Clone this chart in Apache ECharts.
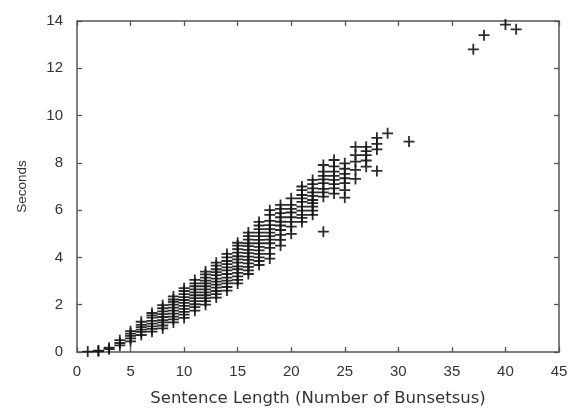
<!DOCTYPE html>
<html>
<head>
<meta charset="utf-8">
<script src="https://cdn.jsdelivr.net/npm/echarts@6/dist/echarts.min.js"></script>
<style>
html,body{margin:0;padding:0;background:#fff;}
#chart{width:571px;height:410px;}
</style>
</head>
<body>
<div id="chart"></div>
<script>
// Sentence length (number of bunsetsus) per column
const sentenceLengths = [1,2,3,4,5,6,7,8,9,10,11,12,13,14,15,16,17,18,19,20,21,22,23,24,25,26,27,28,29,31,37,38,40,41];
// Seconds observed for each sentence length (same order as sentenceLengths)
const secondsByLength = [
  [0.02],
  [0.03, 0.06],
  [0.12, 0.18],
  [0.28, 0.38, 0.5],
  [0.45, 0.58, 0.68, 0.78, 0.88],
  [0.72, 0.85, 0.95, 1.05, 1.15, 1.28],
  [0.86, 0.98, 1.08, 1.2, 1.32, 1.45, 1.55, 1.65],
  [1.0, 1.12, 1.25, 1.35, 1.48, 1.6, 1.72, 1.85, 1.98],
  [1.25, 1.38, 1.5, 1.62, 1.75, 1.88, 2.0, 2.12, 2.22, 2.35],
  [1.44, 1.58, 1.7, 1.82, 1.95, 2.08, 2.2, 2.32, 2.45, 2.58, 2.7],
  [1.75, 1.9, 2.02, 2.15, 2.28, 2.4, 2.52, 2.65, 2.78, 2.9, 3.05],
  [2.0, 2.15, 2.28, 2.4, 2.52, 2.65, 2.78, 2.9, 3.02, 3.15, 3.28, 3.4],
  [2.3, 2.45, 2.58, 2.72, 2.85, 2.98, 3.1, 3.25, 3.38, 3.5, 3.65, 3.78],
  [2.6, 2.75, 2.9, 3.02, 3.15, 3.3, 3.45, 3.58, 3.72, 3.85, 4.0, 4.15],
  [2.9, 3.05, 3.2, 3.35, 3.5, 3.62, 3.78, 3.92, 4.05, 4.2, 4.35, 4.5, 4.62],
  [3.3, 3.45, 3.6, 3.75, 3.9, 4.03, 4.18, 4.32, 4.48, 4.6, 4.75, 4.9, 5.05],
  [3.68, 3.85, 4.0, 4.15, 4.3, 4.45, 4.6, 4.74, 4.9, 5.05, 5.2, 5.35, 5.5],
  [3.95, 4.15, 4.4, 4.6, 4.75, 4.9, 5.05, 5.2, 5.37, 5.55, 5.8, 6.0],
  [4.5, 4.74, 4.95, 5.16, 5.35, 5.51, 5.7, 5.87, 6.05, 6.22],
  [5.0, 5.3, 5.5, 5.7, 5.9, 6.05, 6.22, 6.5],
  [5.5, 5.67, 5.8, 5.98, 6.15, 6.35, 6.5, 6.64, 6.85, 7.0],
  [5.8, 5.98, 6.15, 6.3, 6.43, 6.6, 6.75, 6.92, 7.1, 7.28],
  [5.09, 6.57, 6.75, 6.9, 7.14, 7.3, 7.45, 7.63, 7.91],
  [6.7, 6.92, 7.1, 7.28, 7.45, 7.63, 7.85, 8.12],
  [6.53, 6.85, 7.14, 7.35, 7.53, 7.75, 7.98],
  [7.32, 7.7, 8.05, 8.33, 8.68],
  [7.84, 8.1, 8.33, 8.5, 8.68],
  [7.66, 8.57, 8.8, 9.06],
  [9.25],
  [8.9],
  [12.8],
  [13.4],
  [13.85],
  [13.65]
];
const xTicks = [0,5,10,15,20,25,30,35,40,45];
const yTicks = [0,2,4,6,8,10,12,14];

const points = [];
sentenceLengths.forEach(function(len, i){
  secondsByLength[i].forEach(function(s){ points.push([len, s]); });
});

const font = 'Liberation Sans, Arial, Helvetica, sans-serif';
const wideFont = 'DejaVu Sans, Verdana, sans-serif';
const frame = {show:true, onZero:false, lineStyle:{color:'#555', width:1.5}};
const tickIn = {show:true, inside:true, length:5, lineStyle:{color:'#555', width:1.3}};

const chart = echarts.init(document.getElementById('chart'));
chart.setOption({
  backgroundColor:'#fff',
  animation:false,
  grid:{left:77, right:12, top:21, bottom:58, containLabel:false, outerBoundsMode:'none'},
  xAxis:[
    {type:'value', min:xTicks[0], max:xTicks[xTicks.length-1], interval:5, position:'bottom',
     name:'Sentence Length (Number of Bunsetsus)', nameLocation:'middle', nameGap:38,
     nameTextStyle:{color:'#333', fontSize:16.5, fontFamily:wideFont},
     axisLine:frame, axisTick:tickIn, splitLine:{show:false},
     axisLabel:{color:'#333', fontSize:15, fontFamily:font, margin:12}},
    {type:'value', min:xTicks[0], max:xTicks[xTicks.length-1], interval:5, position:'top',
     axisLine:frame, axisTick:tickIn, splitLine:{show:false}, axisLabel:{show:false}}
  ],
  yAxis:[
    {type:'value', min:yTicks[0], max:yTicks[yTicks.length-1], interval:2, position:'left',
     name:'Seconds', nameLocation:'middle', nameGap:48,
     nameTextStyle:{color:'#333', fontSize:13.5, fontFamily:font},
     axisLine:frame, axisTick:tickIn, splitLine:{show:false},
     axisLabel:{color:'#333', fontSize:15, fontFamily:font, margin:14}},
    {type:'value', min:yTicks[0], max:yTicks[yTicks.length-1], interval:2, position:'right',
     axisLine:frame, axisTick:tickIn, splitLine:{show:false}, axisLabel:{show:false}}
  ],
  series:[{
    type:'scatter',
    xAxisIndex:0, yAxisIndex:0,
    data:points,
    symbol:'path://M4.6,0H6.4V4.6H11V6.4H6.4V11H4.6V6.4H0V4.6H4.6Z',
    symbolSize:[11,11],
    itemStyle:{color:'#151515', opacity:0.9},
    clip:false
  }]
});
</script>
</body>
</html>
